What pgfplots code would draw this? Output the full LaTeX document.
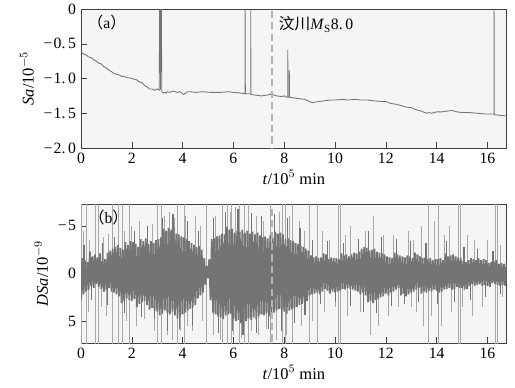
\documentclass[border=0pt]{standalone}
\usepackage{pgfplots}
\pgfplotsset{compat=1.18}
\usepackage{fontspec}
\setmainfont{Liberation Serif}
\newfontfamily\cjk{Noto Sans CJK SC}
\definecolor{sig}{HTML}{747474}
\definecolor{spk}{HTML}{A8A8A8}
\definecolor{bgc}{HTML}{F5F5F5}
\definecolor{dsh}{HTML}{B4B4B4}
\newcommand{\mn}{−\kern0.08em}
\begin{document}
\begin{tikzpicture}
\pgfplotsset{
  every axis/.style={
    scale only axis, width=298pt, height=97.3pt,
    xmin=0, xmax=16.76, xtick={0,2,...,16},
    tick pos=left, axis line style={black!75}, tick style={black!75},
    axis background/.style={fill=bgc},
    /pgf/number format/assume math mode=true,
    tick label style={font=\fontsize{11}{13}\selectfont},
    label style={font=\fontsize{11.5}{13}\selectfont},
    xlabel={\textit{t}/10$^{5}$ min},
    xlabel style={yshift=2pt},
  }
}
\begin{axis}[
  at={(0,0)}, anchor=south west,
  ymin=-2.0, ymax=0,
  ytick={-2,-1.5,-1,-0.5,0},
  yticklabels={\mn 2.\,0,\mn 1.\,5,\mn 1.\,0,\mn 0.\,5,0},
  ylabel={\textit{Sa}/10$^{-5}$},
]
\addplot[sig, line width=0.6pt] coordinates {
(0,-0.61) (0.1,-0.65) (0.2,-0.66) (0.3,-0.69) (0.4,-0.70) (0.5,-0.73) (0.6,-0.75) (0.7,-0.78) (0.8,-0.79) (0.9,-0.83) (1.0,-0.85) (1.1,-0.88) (1.2,-0.90) (1.3,-0.93) (1.4,-0.94) (1.5,-0.95) (1.6,-0.97) (1.7,-0.97) (1.8,-0.99) (1.9,-0.99) (2.0,-1.0) (2.1,-1.01) (2.2,-1.02) (2.3,-1.05) (2.4,-1.06) (2.5,-1.1) (2.6,-1.12) (2.7,-1.15) (2.8,-1.15) (2.9,-1.17) (3.0,-1.15) (3.08,-1.17) (3.1,0.3) (3.12,0.3) (3.13,-1.16) (3.14,0.3) (3.16,0.3) (3.18,-1.19) (3.25,-1.21) (3.3,-1.20) (3.35,-1.21) (3.4,-1.19) (3.5,-1.2) (3.6,-1.18) (3.7,-1.19) (3.8,-1.2) (3.9,-1.19) (4.0,-1.22) (4.05,-1.23) (4.1,-1.21) (4.2,-1.19) (4.3,-1.19) (4.5,-1.2) (4.8,-1.19) (5.1,-1.2) (5.5,-1.2) (5.8,-1.19) (6.0,-1.2) (6.3,-1.21) (6.46,-1.22) (6.46,0.3) (6.47,-1.22) (6.6,-1.22) (6.68,-1.22) (6.68,0.3) (6.69,-1.23) (6.9,-1.24) (7.1,-1.25) (7.3,-1.24) (7.45,-1.23) (7.5,-1.21) (7.55,-1.23) (7.7,-1.25) (7.9,-1.26) (8.0,-1.25) (8.1,-1.27) (8.14,-1.27) (8.14,-0.59) (8.15,-1.27) (8.2,-1.27) (8.2,-0.88) (8.21,-1.27) (8.4,-1.28) (8.6,-1.29) (8.8,-1.3) (9.0,-1.33) (9.1,-1.35) (9.2,-1.34) (9.4,-1.33) (9.6,-1.32) (9.8,-1.31) (10.0,-1.31) (10.3,-1.30) (10.5,-1.31) (10.8,-1.30) (11.0,-1.31) (11.3,-1.31) (11.5,-1.32) (11.8,-1.33) (12.0,-1.33) (12.2,-1.36) (12.4,-1.37) (12.6,-1.39) (12.8,-1.41) (13.0,-1.42) (13.2,-1.45) (13.4,-1.47) (13.6,-1.50) (13.7,-1.49) (13.8,-1.50) (14.0,-1.48) (14.2,-1.48) (14.4,-1.47) (14.6,-1.46) (14.8,-1.48) (15.0,-1.49) (15.3,-1.49) (15.6,-1.50) (15.9,-1.51) (16.2,-1.51) (16.26,-1.51) (16.26,0.3) (16.27,-1.52) (16.5,-1.53) (16.76,-1.54)
};
\addplot[dsh, line width=1.2pt, dash pattern=on 5pt off 3pt] coordinates {(7.53,-2.1) (7.53,0.1)};
\node[anchor=west, inner sep=0pt, font=\fontsize{11}{13}\selectfont] at (axis cs:7.78,-0.22) {{\cjk 汶川}\textit{M}\textsubscript{S}8.\,0};
\node[anchor=west, inner sep=0pt, font=\fontsize{11}{13}\selectfont] at (axis cs:0.25,-0.2) {{\cjk （}a{\cjk ）}};
\end{axis}
\begin{axis}[
  at={(0,-136.5pt)}, anchor=south west,
  ymin=-7.3, ymax=7.3, y dir=reverse,
  ytick={-5,0,5},
  yticklabels={\mn 5,0,5},
  ylabel={\textit{DSa}/10$^{-9}$},
]
% full-height spikes
\addplot[spk, ycomb, line width=0.6pt] coordinates {
(0.02,9) (0.22,9) (0.55,9) (0.68,9) (1.25,9) (1.47,9) (1.62,9) (1.9,9) (3.0,9) (3.15,9) (3.78,9) (4.08,9) (4.92,9) (5.56,9) (5.78,9) (5.92,9) (6.25,9) (6.45,9) (6.58,9) (7.47,9) (7.93,9) (8.05,9) (8.32,9) (8.99,9) (9.3,9) (10.15,9) (10.2,9) (13.67,9) (14.09,9) (14.84,9) (14.95,9) (16.3,9) (16.41,9)
};
\addplot[spk, ycomb, line width=0.6pt] coordinates {
(0.02,-9) (0.22,-9) (0.55,-9) (0.68,-9) (1.25,-9) (1.47,-9) (1.62,-9) (1.9,-9) (3.0,-9) (3.15,-9) (3.78,-9) (4.08,-9) (4.92,-9) (5.56,-9) (5.78,-9) (5.92,-9) (6.25,-9) (6.45,-9) (6.58,-9) (7.47,-9) (7.93,-9) (8.05,-9) (8.32,-9) (8.99,-9) (9.3,-9) (10.15,-9) (10.2,-9) (13.67,-9) (14.09,-9) (14.84,-9) (14.95,-9) (16.3,-9) (16.41,-9)
};
% partial spikes (light)
\addplot[spk, ycomb, line width=0.7pt] coordinates {
(0.1,-4.5) (0.35,-3.5) (0.7,-3) (0.9,-3.8) (1.1,-4.2) (1.7,-4.5) (2.0,-5) (2.3,-5.5) (2.6,-4.8) (2.8,-5.2) (3.3,-6) (3.5,-6.5) (3.7,-5.8) (4.1,-6)
(0.3,4) (0.8,3.5) (1.0,4.5) (1.8,5) (2.2,5.5) (2.5,4.8) (2.9,6) (3.4,6.5) (3.6,7) (3.9,6) (4.2,5.5)
(4.5,-6) (4.7,-5) (5.3,-6) (5.9,-6.5) (6.1,-7) (6.6,-6.5) (6.9,-6) (7.2,-5.5) (7.8,-6.5) (8.2,-6)
(4.4,6) (4.8,5) (5.2,6.5) (5.5,7) (6.0,6.5) (6.3,6.8) (6.7,6) (7.0,6.5) (7.3,5.8) (7.7,7) (8.1,6.5)
(8.6,-5.5) (8.8,-4.5) (9.5,-4.5) (9.8,-3.5) (10.4,-4) (10.6,-5) (11.2,-4.5) (11.5,-6) (11.9,-4) (12.3,-4)
(8.7,5.5) (9.1,5) (9.6,4) (10.0,3.5) (10.5,4.5) (11.0,4) (11.4,6.5) (11.7,5.5) (12.1,4.5) (12.5,3.5)
(12.9,-4.5) (13.1,-3.5) (13.4,-5) (13.9,-5.5) (14.3,-4) (14.5,-5) (15.2,-4) (15.5,-3.5) (16.0,-3.5) (16.5,-3)
(13.0,3.5) (13.2,4) (13.5,5.5) (13.8,4.5) (14.2,5.5) (14.6,4) (15.0,3.5) (15.4,4.5) (15.8,3.5) (16.6,2.5)
};
% partial spikes (dark)
\addplot[sig, ycomb, line width=0.8pt] coordinates {
(0.12,-3) (0.42,2.8) (0.83,-3.2) (1.05,3.3) (1.33,-3.8) (1.72,4.2) (2.12,-4.5) (2.38,4.6) (2.62,-5) (2.88,4.8) (3.22,-5.8) (3.42,6) (3.62,-6.2) (3.88,5.8) (4.18,-5.5) (4.38,5.5) (4.62,-4.5) (5.22,-5.8) (5.42,6.2) (5.68,-6.5) (5.98,6) (6.18,-6.8) (6.38,6.5) (6.72,-6.4) (6.92,6.2) (7.12,-6) (7.38,5.8) (7.62,-6.2) (7.88,6) (8.12,-5.8) (8.42,5.2) (8.62,-4.8) (8.82,4.4) (9.12,-3.5) (9.42,3.2) (9.72,-3.4) (10.02,3) (10.32,-3.2) (10.62,3.4) (10.92,-3.6) (11.12,4) (11.32,-4.5) (11.62,4.2) (11.82,-3.8) (12.22,3.4) (12.42,-3.6) (12.72,3.2) (12.98,-3.4) (13.28,3) (13.58,-3.2) (14.02,3.2) (14.38,-3.4) (14.72,3) (15.08,-2.8) (15.32,2.8) (15.62,-2.6) (15.92,2.5) (16.22,-2.4) (16.52,2.2)
};
% main signal
\addplot[sig, line width=1.25pt, line join=miter, miter limit=1.5] coordinates {
(0.00,2.8) (0.05,-1.6) (0.10,2.2) (0.15,-1.4) (0.20,1.9) (0.25,-1.2) (0.30,1.7) (0.35,-2.3) (0.40,1.3) (0.45,-1.8) (0.50,1.5) (0.55,-2.0) (0.60,1.1) (0.65,-1.7) (0.70,1.4) (0.75,-2.1) (0.80,1.6) (0.85,-1.3) (0.90,1.9) (0.95,-1.5)
(1.00,1.7) (1.05,-2.2) (1.10,1.5) (1.15,-2.4) (1.20,1.9) (1.25,-2.6) (1.30,2.0) (1.35,-2.8) (1.40,2.2) (1.45,-3.0) (1.50,2.4) (1.55,-2.7) (1.60,3.1) (1.65,-2.5) (1.70,2.9) (1.75,-3.3) (1.80,2.6) (1.85,-3.0) (1.90,2.8) (1.95,-3.4)
(2.00,2.9) (2.05,-3.3) (2.10,2.7) (2.15,-3.1) (2.20,3.5) (2.25,-2.8) (2.30,3.2) (2.35,-3.6) (2.40,3.0) (2.45,-3.4) (2.50,2.9) (2.55,-3.7) (2.60,3.3) (2.65,-3.1) (2.70,3.8) (2.75,-3.4) (2.80,3.6) (2.85,-3.2) (2.90,3.9) (2.95,-3.5)
(3.00,4.0) (3.05,-3.6) (3.10,4.4) (3.15,-3.8) (3.20,4.2) (3.25,-4.7) (3.30,3.9) (3.35,-4.5) (3.40,4.1) (3.45,-4.8) (3.50,4.3) (3.55,-4.6) (3.60,4.0) (3.65,-4.9) (3.70,4.4) (3.75,-4.2) (3.80,4.7) (3.85,-4.1) (3.90,4.5) (3.95,-3.9)
(4.00,4.3) (4.05,-3.8) (4.10,4.1) (4.15,-3.6) (4.20,3.9) (4.25,-3.4) (4.30,3.7) (4.35,-3.2) (4.40,3.5) (4.45,-3.0) (4.50,3.3) (4.55,-2.8) (4.60,2.6) (4.65,-2.9) (4.70,2.3) (4.75,-2.5) (4.80,2.0) (4.85,-1.6) (4.90,1.2) (4.95,-0.8)
(5.00,0.5) (5.05,-1.5) (5.10,2.8) (5.15,-3.6) (5.20,4.1) (5.25,-3.7) (5.30,4.3) (5.35,-3.9) (5.40,4.5) (5.45,-4.0) (5.50,4.6) (5.55,-4.2) (5.60,4.8) (5.65,-4.1) (5.70,4.4) (5.75,-4.9) (5.80,4.3) (5.85,-4.6) (5.90,4.2) (5.95,-4.7)
(6.00,4.8) (6.05,-4.3) (6.10,5.0) (6.15,-4.5) (6.20,4.9) (6.25,-4.4) (6.30,5.2) (6.35,-4.6) (6.40,4.8) (6.45,-4.3) (6.50,5.0) (6.55,-4.5) (6.60,4.7) (6.65,-4.2) (6.70,4.9) (6.75,-4.4) (6.80,4.6) (6.85,-4.1) (6.90,4.8) (6.95,-4.3)
(7.00,4.5) (7.05,-4.0) (7.10,4.3) (7.15,-3.8) (7.20,4.4) (7.25,-3.9) (7.30,4.2) (7.35,-3.7) (7.40,4.5) (7.45,-4.0) (7.50,4.3) (7.55,-3.8) (7.60,4.1) (7.65,-4.4) (7.70,3.9) (7.75,-4.2) (7.80,3.7) (7.85,-4.3) (7.90,3.8) (7.95,-4.1)
(8.00,4.0) (8.05,-3.6) (8.10,4.2) (8.15,-3.7) (8.20,3.9) (8.25,-3.5) (8.30,3.8) (8.35,-3.4) (8.40,3.6) (8.45,-3.2) (8.50,3.5) (8.55,-3.1) (8.60,3.3) (8.65,-2.9) (8.70,3.2) (8.75,-2.8) (8.80,3.0) (8.85,-2.6) (8.90,2.9) (8.95,-2.4)
(9.00,2.3) (9.05,-1.9) (9.10,2.2) (9.15,-1.7) (9.20,2.1) (9.25,-1.8) (9.30,2.0) (9.35,-1.6) (9.40,2.2) (9.45,-1.7) (9.50,1.9) (9.55,-2.1) (9.60,1.6) (9.65,-2.0) (9.70,1.8) (9.75,-1.5) (9.80,2.1) (9.85,-1.7) (9.90,1.9) (9.95,-1.6)
(10.00,2.0) (10.05,-1.6) (10.10,1.9) (10.15,-1.5) (10.20,1.8) (10.25,-2.1) (10.30,1.6) (10.35,-1.9) (10.40,1.7) (10.45,-2.0) (10.50,1.5) (10.55,-1.8) (10.60,1.6) (10.65,-2.0) (10.70,1.7) (10.75,-2.2) (10.80,1.8) (10.85,-2.1) (10.90,1.9) (10.95,-2.3)
(11.00,2.2) (11.05,-2.6) (11.10,2.0) (11.15,-2.8) (11.20,2.3) (11.25,-2.7) (11.30,3.0) (11.35,-2.4) (11.40,2.9) (11.45,-2.5) (11.50,3.1) (11.55,-2.6) (11.60,2.8) (11.65,-2.3) (11.70,2.7) (11.75,-2.2) (11.80,2.5) (11.85,-2.1) (11.90,2.4) (11.95,-2.0)
(12.00,2.1) (12.05,-1.8) (12.10,2.3) (12.15,-1.7) (12.20,2.0) (12.25,-1.6) (12.30,1.9) (12.35,-2.2) (12.40,1.7) (12.45,-2.0) (12.50,1.5) (12.55,-1.9) (12.60,2.3) (12.65,-1.8) (12.70,2.1) (12.75,-1.7) (12.80,2.4) (12.85,-1.9) (12.90,2.2) (12.95,-1.8)
(13.00,2.0) (13.05,-1.6) (13.10,1.9) (13.15,-2.2) (13.20,1.7) (13.25,-2.0) (13.30,1.5) (13.35,-1.8) (13.40,2.1) (13.45,-1.6) (13.50,1.9) (13.55,-1.7) (13.60,2.0) (13.65,-1.5) (13.70,1.8) (13.75,-1.6) (13.80,1.9) (13.85,-1.4) (13.90,1.7) (13.95,-1.5)
(14.00,1.8) (14.05,-1.5) (14.10,2.0) (14.15,-1.6) (14.20,1.9) (14.25,-1.4) (14.30,1.7) (14.35,-2.1) (14.40,1.6) (14.45,-1.8) (14.50,1.5) (14.55,-1.9) (14.60,1.7) (14.65,-2.0) (14.70,1.6) (14.75,-1.8) (14.80,1.4) (14.85,-1.7) (14.90,1.5) (14.95,-1.6)
(15.00,1.5) (15.05,-1.3) (15.10,1.7) (15.15,-1.2) (15.20,1.6) (15.25,-1.4) (15.30,1.3) (15.35,-1.6) (15.40,1.1) (15.45,-1.5) (15.50,1.3) (15.55,-1.4) (15.60,1.2) (15.65,-1.6) (15.70,1.1) (15.75,-1.4) (15.80,1.3) (15.85,-1.5) (15.90,1.2) (15.95,-1.4)
(16.00,1.3) (16.05,-1.1) (16.10,1.4) (16.15,-1.2) (16.20,1.0) (16.25,-1.3) (16.30,1.1) (16.35,-1.4) (16.40,1.2) (16.45,-1.0) (16.50,1.3) (16.55,-1.1) (16.60,1.2) (16.65,-1.0) (16.70,1.3) (16.76,-1.2)
};
\addplot[dsh, line width=1.2pt, dash pattern=on 5pt off 3pt] coordinates {(7.53,-8) (7.53,8)};
\node[anchor=west, inner sep=0pt, font=\fontsize{11}{13}\selectfont] at (axis cs:0.3,-5.9) {{\cjk （}b{\cjk ）}};
\end{axis}
\pgfresetboundingbox
\path (-56.7pt,-167.3pt) rectangle (303.8pt,103.6pt);
\end{tikzpicture}
\end{document}
